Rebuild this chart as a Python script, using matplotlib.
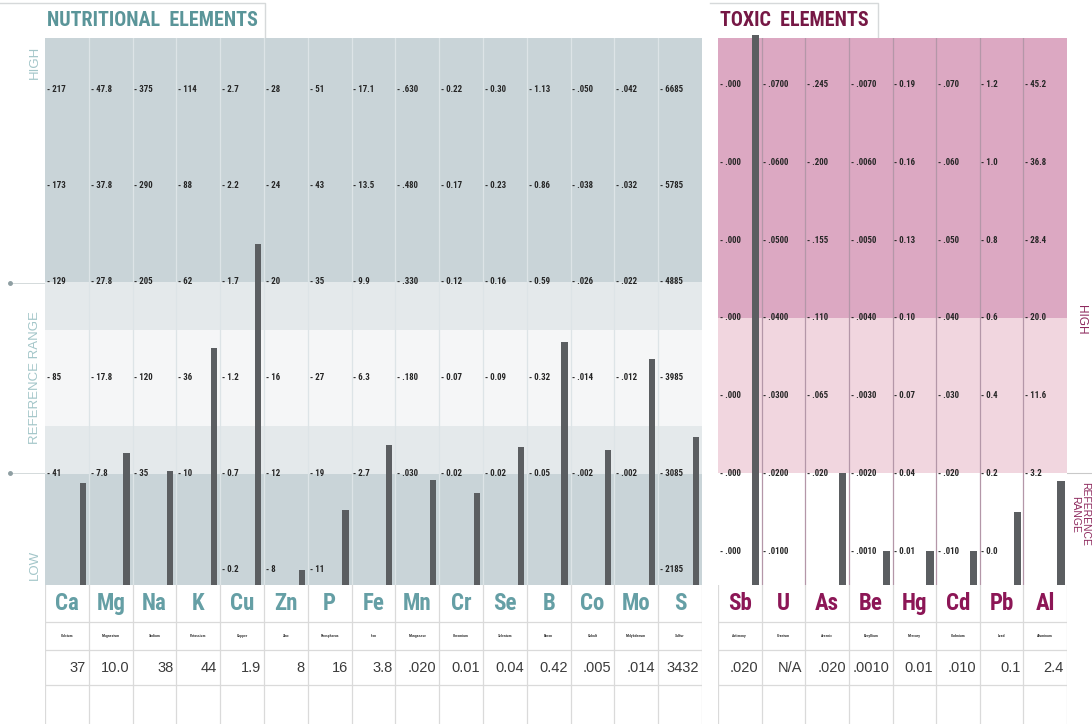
import matplotlib
matplotlib.use("Agg")
import matplotlib.pyplot as plt
import numpy as np
from matplotlib import font_manager

# ---- data ----
nutr_symbols = ["Ca", "Mg", "Na", "K", "Cu", "Zn", "P", "Fe", "Mn", "Cr", "Se", "B", "Co", "Mo", "S"]
nutr_names = ["Calcium", "Magnesium", "Sodium", "Potassium", "Copper", "Zinc", "Phosphorus", "Iron",
              "Manganese", "Chromium", "Selenium", "Boron", "Cobalt", "Molybdenum", "Sulfur"]
nutr_values = [37, 10.0, 38, 44, 1.9, 8, 16, 3.8, 0.020, 0.01, 0.04, 0.42, 0.005, 0.014, 3432]
nutr_value_text = ["37", "10.0", "38", "44", "1.9", "8", "16", "3.8", ".020", "0.01", "0.04", "0.42",
                   ".005", ".014", "3432"]
# scale labels, top row to bottom row ("" = not printed)
nutr_ticks = [
    ["217", "173", "129", "85", "41", ""],
    ["47.8", "37.8", "27.8", "17.8", "7.8", ""],
    ["375", "290", "205", "120", "35", ""],
    ["114", "88", "62", "36", "10", ""],
    ["2.7", "2.2", "1.7", "1.2", "0.7", "0.2"],
    ["28", "24", "20", "16", "12", "8"],
    ["51", "43", "35", "27", "19", "11"],
    ["17.1", "13.5", "9.9", "6.3", "2.7", ""],
    [".630", ".480", ".330", ".180", ".030", ""],
    ["0.22", "0.17", "0.12", "0.07", "0.02", ""],
    ["0.30", "0.23", "0.16", "0.09", "0.02", ""],
    ["1.13", "0.86", "0.59", "0.32", "0.05", ""],
    [".050", ".038", ".026", ".014", ".002", ""],
    [".042", ".032", ".022", ".012", ".002", ""],
    ["6685", "5785", "4885", "3985", "3085", "2185"],
]

tox_symbols = ["Sb", "U", "As", "Be", "Hg", "Cd", "Pb", "Al"]
tox_names = ["Antimony", "Uranium", "Arsenic", "Beryllium", "Mercury", "Cadmium", "Lead", "Aluminum"]
tox_values = [0.020, None, 0.020, 0.0010, 0.01, 0.010, 0.1, 2.4]
tox_value_text = [".020", "N/A", ".020", ".0010", "0.01", ".010", "0.1", "2.4"]
tox_ticks = [
    [".000", ".000", ".000", ".000", ".000", ".000", ".000"],
    [".0700", ".0600", ".0500", ".0400", ".0300", ".0200", ".0100"],
    [".245", ".200", ".155", ".110", ".065", ".020", ""],
    [".0070", ".0060", ".0050", ".0040", ".0030", ".0020", ".0010"],
    ["0.19", "0.16", "0.13", "0.10", "0.07", "0.04", "0.01"],
    [".070", ".060", ".050", ".040", ".030", ".020", ".010"],
    ["1.2", "1.0", "0.8", "0.6", "0.4", "0.2", "0.0"],
    ["45.2", "36.8", "28.4", "20.0", "11.6", "3.2", ""],
]

# ---- fonts ----
installed = {f.name for f in font_manager.fontManager.ttflist}
narrow = "DejaVu Sans"
for cand in ["Roboto Condensed", "Liberation Sans Narrow", "Open Sans Condensed"]:
    if cand in installed:
        narrow = cand
        break
plain = "Liberation Sans" if "Liberation Sans" in installed else "DejaVu Sans"

W, H = 1092, 724
fig = plt.figure(figsize=(W / 100, H / 100), dpi=100)
fig.patch.set_facecolor("white")


def box(x0, y0, x1, y1):
    return fig.add_axes([x0 / W, 1 - y1 / H, (x1 - x0) / W, (y1 - y0) / H])


TEAL = "#5a9599"
TEAL_L = "#659fa5"
MAROON = "#761845"
MAROON_L = "#8c1656"
BAR = "#5b5e61"
SIDE_T = "#a3c6c9"
SIDE_M = "#8e2a5e"

# background overlay for headers and side labels
bg = box(0, 0, W, H)
bg.set_xlim(0, W)
bg.set_ylim(H, 0)
bg.axis("off")
bg.plot([0, 265, 265], [3, 3, 38], color="#d6d9da", lw=1)
bg.plot([710, 878, 878], [3, 3, 38], color="#d6d9da", lw=1)
bg.text(47, 21, "NUTRITIONAL  ELEMENTS", color=TEAL, fontsize=14.5, fontweight="bold",
        family=narrow, va="center", ha="left")
bg.text(720, 21, "TOXIC  ELEMENTS", color=MAROON, fontsize=14.5, fontweight="bold",
        family=narrow, va="center", ha="left")
for yy in [283, 473]:
    bg.plot([10, 45], [yy, yy], color="#cdd4d6", lw=0.6)
    bg.plot([10], [yy], "o", color="#8e9ea2", ms=2.5)

side = dict(family=plain, fontsize=9.5, ha="center", va="center")
bg.text(35, 62, "HIGH", rotation=90, color=SIDE_T, **side)
bg.text(35, 378, "REFERENCE RANGE", rotation=90, color=SIDE_T, **side)
bg.text(35, 565, "LOW", rotation=90, color=SIDE_T, **side)
bg.text(1081, 320, "HIGH", rotation=270, color=SIDE_M, family=plain, fontsize=8.5,
        ha="center", va="center")
bg.text(1080, 514, "REFERENCE\nRANGE", rotation=270, color=SIDE_M, family=plain, fontsize=7.5,
        ha="center", va="center", linespacing=0.95)
bg.plot([1067, 1092], [473, 473], color="#c9c9c9", lw=0.8)


def draw_panel(ax, ticks, values, ncols, row_px, base_px, bands, sep_color, bar_w):
    top = (base_px - 38) / row_px
    bottom = -(585 - base_px) / row_px
    ax.set_xlim(0, ncols)
    ax.set_ylim(bottom, top)
    for lo, hi, col in bands:
        ax.axhspan(max(lo, bottom), min(hi, top), color=col, lw=0, zorder=0)
    for i in range(1, ncols):
        ax.axvline(i, color=sep_color, lw=0.9, zorder=1)
    nrows = len(ticks[0])
    for i, col_ticks in enumerate(ticks):
        for r, lab in enumerate(col_ticks):
            if lab:
                ax.text(i + 0.04, nrows - 1 - r, "- " + lab, fontsize=6.4, family=narrow,
                        fontweight="bold", color="#262626", va="center", ha="left", zorder=3)
        v = values[i]
        if v is None:
            continue
        nums = [float(t) for t in col_ticks if t]
        pos = [nrows - 1 - r for r, t in enumerate(col_ticks) if t]
        if len(set(nums)) == 1:
            level = top + 0.04  # off the printed scale
        else:
            k, c = np.polyfit(nums, pos, 1)
            level = k * v + c
        ax.bar(i + 0.86, level - bottom, bottom=bottom, width=bar_w, color=BAR, zorder=4,
               clip_on=False)
    ax.set_xticks([])
    ax.set_yticks([])
    for s in ax.spines.values():
        s.set_visible(False)


ax_n = box(45, 38, 702, 585)
draw_panel(ax_n, nutr_ticks, nutr_values, 15, 96.0, 570,
           [(3, 99, "#c9d4d8"), (2.5, 3, "#e4e9eb"), (1.5, 2.5, "#f5f6f7"),
            (1, 1.5, "#e4e9eb"), (-99, 1, "#c9d4d8")],
           "#dde4e7", 0.14)

ax_t = box(718, 38, 1067, 585)
draw_panel(ax_t, tox_ticks, tox_values, 8, 77.7, 551,
           [(3, 99, "#dca8c2"), (1, 3, "#f1d6df"), (-99, 1, "#ffffff")],
           "#b497a8", 0.17)


def draw_table(ax, ncols, symbols, names, value_text, sym_color):
    ax.set_xlim(0, ncols)
    ax.set_ylim(724, 585)
    ax.axis("off")
    for i in range(ncols + 1):
        ax.plot([i, i], [585, 724], color="#dadada", lw=0.9)
    for yy in [622, 650, 685]:
        ax.plot([0, ncols], [yy, yy], color="#dadada", lw=0.9)
    for i in range(ncols):
        ax.text(i + 0.5, 604, symbols[i], color=sym_color, fontsize=16.5, fontweight="bold",
                family=narrow, ha="center", va="center")
        ax.text(i + 0.5, 636, names[i], color="#3a3a3a", fontsize=2.8, fontweight="bold",
                family=narrow, ha="center", va="center")
        ax.text(i + 0.93, 668, value_text[i], color="#3b3b3b", fontsize=10.5,
                family=plain, ha="right", va="center")


draw_table(box(45, 585, 702, 724), 15, nutr_symbols, nutr_names, nutr_value_text, TEAL_L)
draw_table(box(718, 585, 1067, 724), 8, tox_symbols, tox_names, tox_value_text, MAROON_L)

fig.savefig("out.png", dpi=100, facecolor="white")
